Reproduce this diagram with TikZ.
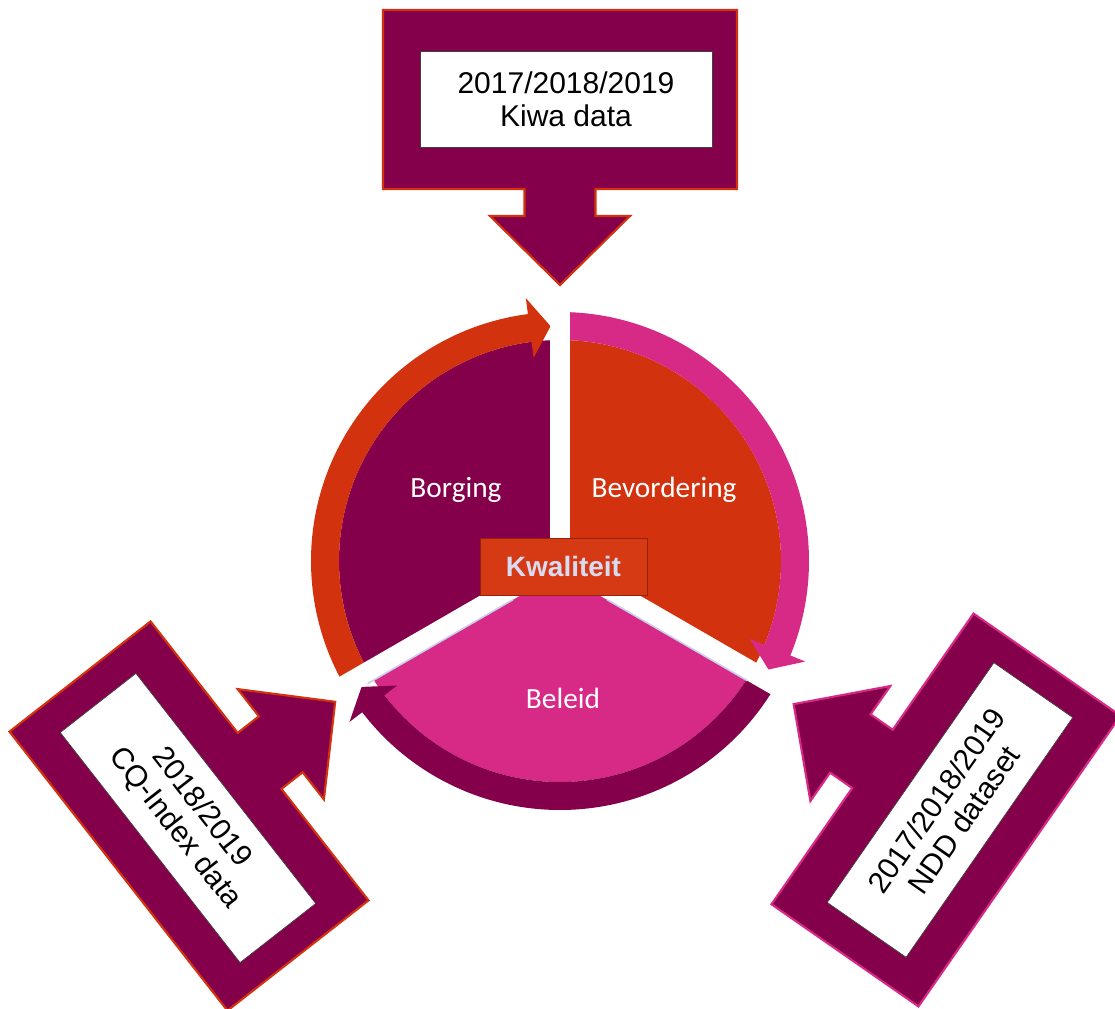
\documentclass[tikz,border=0pt]{standalone}
\usepackage{fontspec}
\setmainfont{Liberation Sans}
\newfontfamily\carlito{Carlito}
\usetikzlibrary{calc}
\definecolor{dpurple}{HTML}{85004B}
\definecolor{orng}{HTML}{D2320E}
\definecolor{pnk}{HTML}{D62A86}
\definecolor{kwbox}{HTML}{D63A14}
\definecolor{kwtext}{HTML}{D8DCF2}
\definecolor{lav}{HTML}{C8CCEE}
\begin{document}
\begin{tikzpicture}[x=0.75pt,y=0.75pt,
  databox/.style={fill=white, draw=black!75, line width=0.5pt, minimum width=219pt,
    minimum height=72pt, inner sep=0pt, align=center, font=\fontsize{22.5}{25}\selectfont},
  seglabel/.style={text=white, inner sep=0pt, font=\carlito\fontsize{22}{26}\selectfont},
  kwstyle/.style={fill=kwbox, draw=orng!70!black, line width=0.5pt, minimum width=125pt,
    minimum height=43pt, inner sep=0pt, text=kwtext, font=\bfseries\fontsize{21}{24}\selectfont},
  inarrow/.pic={\path[pic actions] (-177,89.5) -- (177,89.5) -- (177,-89.5) -- (35.5,-89.5)
    -- (35.5,-116.5) -- (70,-116.5) -- (0,-185.5) -- (-70,-116.5) -- (-35.5,-116.5)
    -- (-35.5,-89.5) -- (-177,-89.5) -- cycle;},
  arrowframe/.style={fill=dpurple, line width=1.6pt, line join=miter},
  gapbar/.style={draw=white, line width=15pt},
  lavline/.style={draw=lav, line width=1.2pt}
]
\useasboundingbox (0,0) rectangle (1115,-1009);

% ---- central cycle ----
\begin{scope}[shift={(560,-561)}]
  \coordinate (c) at (0,0);
  % sectors
  \fill[dpurple] (c) -- (90:221) arc[start angle=90, end angle=210, radius=221] -- cycle;
  \fill[orng] (c) -- (-30:221) arc[start angle=-30, end angle=90, radius=221] -- cycle;
  \fill[pnk] (c) -- (210:221) arc[start angle=210, end angle=330, radius=221] -- cycle;
  % ring arrows
  \fill[orng] (209:249) arc[start angle=209, end angle=97.4, radius=249]
     -- (97.4:265) -- (92.3:235) -- (97.4:205) -- (97.4:221)
     arc[start angle=97.4, end angle=209, radius=221] -- cycle;
  \fill[pnk] (89:249) arc[start angle=89, end angle=-22.3, radius=249]
     -- (-22.3:265) -- (-27.5:235) -- (-22.3:205) -- (-22.3:221)
     arc[start angle=-22.3, end angle=89, radius=221] -- cycle;
  \fill[dpurple] (-31:249) arc[start angle=-31, end angle=-142.6, radius=249]
     -- (-142.6:265) -- (-147.6:235) -- (-142.6:205) -- (-142.6:221)
     arc[start angle=-142.6, end angle=-31, radius=221] -- cycle;
  % white gaps
  \draw[gapbar] (c) -- (90:268);
  \draw[gapbar] (c) -- (-30:268);
  \draw[gapbar] (c) -- (210:262);
  % light edges of Beleid
  \draw[lavline] ($(300:10)+(210:60)$) -- ($(300:10)+(210:228)$);
  \draw[lavline] ($(240:10)+(-30:60)$) -- ($(240:10)+(-30:222)$);
\end{scope}

\node[kwstyle] (kwaliteit) at (563.5,-566.5) {Kwaliteit};
\node[seglabel] (borging) at (456,-490) {Borging};
\node[seglabel] (bevordering) at (664,-490) {Bevordering};
\node[seglabel] (beleid) at (563,-698) {Beleid};

% ---- input arrows ----
\pic[arrowframe, draw=orng] at (560,-99.5) {inarrow};
\pic[arrowframe, draw=orng, rotate=128] at (189,-816) {inarrow};
\pic[arrowframe, draw=pnk, rotate=235.2] at (946,-810) {inarrow};

\node[databox] (kiwa) at (566,-99) {2017/2018/2019\\Kiwa data};
\node[databox, rotate=-52] (cq) at (188,-818) {2018/2019\\CQ-Index data};
\node[databox, rotate=55.2] (ndd) at (950,-810) {2017/2018/2019\\NDD dataset};
\end{tikzpicture}
\end{document}
